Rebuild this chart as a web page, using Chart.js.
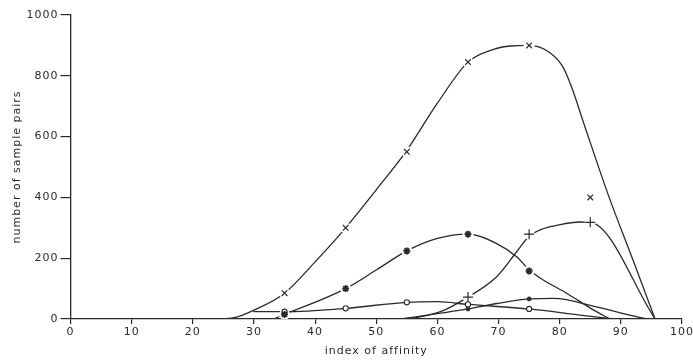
<!DOCTYPE html>
<html>
<head>
<meta charset="utf-8">
<script src="https://cdn.jsdelivr.net/npm/chart.js@4"></script>
<style>
  html, body { margin: 0; padding: 0; background: #fff; }
  #wrap { width: 693px; height: 363px; }
</style>
</head>
<body>
<div id="wrap"><canvas id="affinityChart" width="693" height="363"></canvas></div>
<script>
// marked observations
const crossX = [35, 45, 55, 65, 75, 85];
const crossVals = [85, 300, 550, 845, 900, 400];
const starX = [35, 45, 55, 65, 75];
const starVals = [15, 100, 224, 279, 158];
const plusX = [65, 75, 85];
const plusVals = [72, 279, 318];
const openX = [35, 45, 55, 65, 75];
const openVals = [24, 35, 55, 48, 33];
const dotX = [65, 75];
const dotVals = [33, 66];

// hand-drawn smoothed curves
const crossCurveX = [24.5, 27, 30, 35, 40, 45, 50, 55, 60, 65, 69.2, 72, 75, 78.4, 80.5, 82, 84, 88, 92, 95.6];
const crossCurveY = [0, 5, 29, 85, 188, 300, 425, 555, 710, 845, 887, 898, 900, 876, 830, 760, 640, 405, 193, 0];
const starCurveX = [33.2, 35, 45, 50, 55, 60, 65, 69.7, 73, 75, 76.8, 81.2, 85.5, 88.2];
const starCurveY = [0, 15, 100, 161, 224, 265, 279, 248, 204, 162, 135, 84, 30, 0];
const plusCurveX = [55.5, 60.5, 65, 69.7, 73, 75, 77, 79.5, 83.3, 85, 95.6];
const plusCurveY = [0, 24, 72, 139, 222, 272, 295, 308, 319, 318, 0];
const openCurveX = [29.9, 35, 45, 55, 60, 65, 75, 83.3, 88.8];
const openCurveY = [24, 24, 35, 55, 57, 48, 33, 13, 0];
const dotCurveX = [54, 60.5, 65, 69.7, 75, 79, 86, 92, 94.5];
const dotCurveY = [0, 19, 33, 51, 66, 68, 40, 10, 0];

const xTicks = [0, 10, 20, 30, 40, 50, 60, 70, 80, 90, 100];
const yTicks = [0, 200, 400, 600, 800, 1000];

const ink = '#2a2a2a';
const zip = (xs, ys) => xs.map((x, i) => ({ x: x, y: ys[i] }));

function curve(xs, ys) {
    return {
        data: zip(xs, ys),
        borderColor: ink,
        borderWidth: 1.3,
        pointRadius: 0,
        cubicInterpolationMode: 'monotone',
        fill: false,
        order: 3
    };
}

function halo(xs, ys) {
    return {
        data: zip(xs, ys),
        showLine: false,
        pointStyle: 'circle',
        pointRadius: 5.5,
        pointBackgroundColor: '#fff',
        pointBorderWidth: 0,
        order: 2
    };
}

function marks(xs, ys, style, radius, fillColor, width) {
    return {
        data: zip(xs, ys),
        showLine: false,
        pointStyle: style,
        pointRadius: radius,
        pointBackgroundColor: fillColor,
        pointBorderColor: ink,
        pointBorderWidth: width,
        order: 1
    };
}

// drafting-style lettering is wide, so open the letters up a little
const spacing = {
    id: 'spacing',
    beforeLayout(chart) { chart.ctx.letterSpacing = '1px'; },
    beforeDraw(chart) { chart.ctx.letterSpacing = '1px'; }
};

const font = { family: 'DejaVu Sans', size: 11 };

const ctx = document.getElementById('affinityChart').getContext('2d');
const affinityChart = new Chart(ctx, {
    type: 'line',
    data: {
        datasets: [
            curve(crossCurveX, crossCurveY),
            curve(starCurveX, starCurveY),
            curve(plusCurveX, plusCurveY),
            curve(openCurveX, openCurveY),
            curve(dotCurveX, dotCurveY),
            halo(crossX, crossVals),
            halo(starX, starVals),
            halo(plusX, plusVals),
            marks(crossX, crossVals, 'crossRot', 4, ink, 1.2),
            marks(starX, starVals, 'star', 3.5, ink, 1.8),
            marks(plusX, plusVals, 'cross', 5, ink, 1.2),
            marks(openX, openVals, 'circle', 2.6, '#fff', 1.1),
            marks(dotX, dotVals, 'circle', 2, ink, 1)
        ]
    },
    options: {
        responsive: false,
        animation: false,
        layout: { padding: { top: 15, right: 0, left: 0, bottom: 0 } },
        plugins: { legend: { display: false }, tooltip: { enabled: false } },
        scales: {
            x: {
                type: 'linear',
                min: 0,
                max: 100,
                afterFit: s => { s.height = 44; s.paddingRight = 11; s.paddingLeft = 0; },
                afterBuildTicks: s => { s.ticks = xTicks.map(v => ({ value: v })); },
                ticks: { color: ink, font: font, padding: 2, maxRotation: 0, callback: v => String(v) },
                grid: { drawOnChartArea: false, tickLength: 5, color: ink, lineWidth: 1.2 },
                border: { color: ink, width: 1.3 },
                title: { display: true, text: 'index of affinity', color: ink, font: font, padding: { top: 0, bottom: 5 } }
            },
            y: {
                type: 'linear',
                min: 0,
                max: 1000,
                afterFit: s => { s.width = 70.5; },
                afterBuildTicks: s => { s.ticks = yTicks.map(v => ({ value: v })); },
                ticks: { color: ink, font: font, padding: 2, callback: v => String(v) },
                grid: { drawOnChartArea: false, tickLength: 10, color: ink, lineWidth: 1.2 },
                border: { color: ink, width: 1.3 },
                title: { display: true, text: 'number of sample pairs', color: ink, font: font, padding: { top: 11, bottom: 0 } }
            }
        }
    },
    plugins: [spacing]
});
</script>
</body>
</html>
